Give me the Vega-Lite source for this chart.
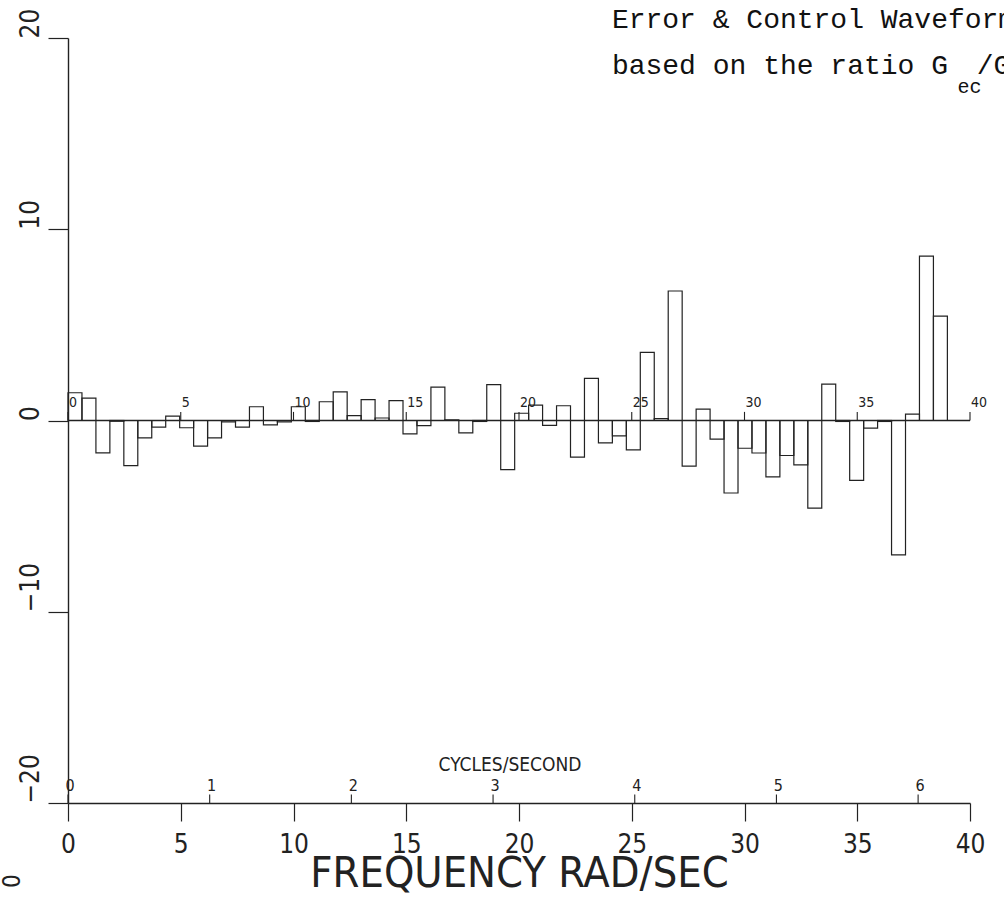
{
  "$schema": "https://vega.github.io/schema/vega-lite/v6.json",
  "width": 902,
  "height": 765,
  "autosize": {"type": "none"},
  "padding": {"left": 68, "top": 38, "right": 34, "bottom": 97},
  "background": "white",
  "config": {
    "view": {"stroke": null},
    "axis": {"grid": false, "labelFlush": false, "labelOverlap": false},
    "text": {"font": "Liberation Sans Narrow, DejaVu Sans Condensed, DejaVu Sans, sans-serif", "color": "#222"}
  },
  "datasets": {
    "bars": [
      {"f": 0, "f2": 0.619, "v": 1.45},
      {"f": 0.619, "f2": 1.238, "v": 1.17},
      {"f": 1.238, "f2": 1.857, "v": -1.69},
      {"f": 1.857, "f2": 2.476, "v": -0.04},
      {"f": 2.476, "f2": 3.095, "v": -2.36},
      {"f": 3.095, "f2": 3.714, "v": -0.91},
      {"f": 3.714, "f2": 4.333, "v": -0.35},
      {"f": 4.333, "f2": 4.952, "v": 0.23},
      {"f": 4.952, "f2": 5.571, "v": -0.38},
      {"f": 5.571, "f2": 6.19, "v": -1.34},
      {"f": 6.19, "f2": 6.809, "v": -0.91},
      {"f": 6.809, "f2": 7.428, "v": -0.07},
      {"f": 7.428, "f2": 8.047, "v": -0.35},
      {"f": 8.047, "f2": 8.666, "v": 0.72},
      {"f": 8.666, "f2": 9.285, "v": -0.23},
      {"f": 9.285, "f2": 9.904, "v": -0.07},
      {"f": 9.904, "f2": 10.523, "v": 0.72},
      {"f": 10.523, "f2": 11.142, "v": -0.05},
      {"f": 11.142, "f2": 11.761, "v": 0.98},
      {"f": 11.761, "f2": 12.38, "v": 1.5},
      {"f": 12.38, "f2": 12.999, "v": 0.25},
      {"f": 12.999, "f2": 13.618, "v": 1.09},
      {"f": 13.618, "f2": 14.237, "v": 0.13},
      {"f": 14.237, "f2": 14.856, "v": 1.04},
      {"f": 14.856, "f2": 15.475, "v": -0.7},
      {"f": 15.475, "f2": 16.094, "v": -0.27},
      {"f": 16.094, "f2": 16.713, "v": 1.74},
      {"f": 16.713, "f2": 17.332, "v": 0.03},
      {"f": 17.332, "f2": 17.951, "v": -0.65},
      {"f": 17.951, "f2": 18.57, "v": -0.05},
      {"f": 18.57, "f2": 19.189, "v": 1.88},
      {"f": 19.189, "f2": 19.808, "v": -2.57},
      {"f": 19.808, "f2": 20.427, "v": 0.38},
      {"f": 20.427, "f2": 21.046, "v": 0.8},
      {"f": 21.046, "f2": 21.665, "v": -0.25},
      {"f": 21.665, "f2": 22.284, "v": 0.77},
      {"f": 22.284, "f2": 22.903, "v": -1.92},
      {"f": 22.903, "f2": 23.522, "v": 2.2},
      {"f": 23.522, "f2": 24.141, "v": -1.17},
      {"f": 24.141, "f2": 24.76, "v": -0.8},
      {"f": 24.76, "f2": 25.379, "v": -1.54},
      {"f": 25.379, "f2": 25.998, "v": 3.56},
      {"f": 25.998, "f2": 26.617, "v": 0.1},
      {"f": 26.617, "f2": 27.236, "v": 6.77},
      {"f": 27.236, "f2": 27.855, "v": -2.39},
      {"f": 27.855, "f2": 28.474, "v": 0.59},
      {"f": 28.474, "f2": 29.093, "v": -0.97},
      {"f": 29.093, "f2": 29.712, "v": -3.79},
      {"f": 29.712, "f2": 30.331, "v": -1.45},
      {"f": 30.331, "f2": 30.95, "v": -1.7},
      {"f": 30.95, "f2": 31.569, "v": -2.95},
      {"f": 31.569, "f2": 32.188, "v": -1.83},
      {"f": 32.188, "f2": 32.807, "v": -2.32},
      {"f": 32.807, "f2": 33.426, "v": -4.58},
      {"f": 33.426, "f2": 34.045, "v": 1.9},
      {"f": 34.045, "f2": 34.664, "v": -0.05},
      {"f": 34.664, "f2": 35.283, "v": -3.13},
      {"f": 35.283, "f2": 35.902, "v": -0.4},
      {"f": 35.902, "f2": 36.521, "v": -0.05},
      {"f": 36.521, "f2": 37.14, "v": -7.03},
      {"f": 37.14, "f2": 37.759, "v": 0.33},
      {"f": 37.759, "f2": 38.378, "v": 8.6},
      {"f": 38.378, "f2": 38.997, "v": 5.46}
    ],
    "zeroTicks": [
      {"x": 0, "label": "0"},
      {"x": 5, "label": "5"},
      {"x": 10, "label": "10"},
      {"x": 15, "label": "15"},
      {"x": 20, "label": "20"},
      {"x": 25, "label": "25"},
      {"x": 30, "label": "30"},
      {"x": 35, "label": "35"},
      {"x": 40, "label": "40"}
    ],
    "cycleTicks": [
      {"x": 0, "label": "0"},
      {"x": 6.283, "label": "1"},
      {"x": 12.566, "label": "2"},
      {"x": 18.85, "label": "3"},
      {"x": 25.133, "label": "4"},
      {"x": 31.416, "label": "5"},
      {"x": 37.699, "label": "6"}
    ],
    "one": [{}]
  },
  "layer": [
    {
      "data": {"name": "bars"},
      "mark": {"type": "rect", "fill": "white", "fillOpacity": 0, "stroke": "#222", "strokeWidth": 1.2},
      "encoding": {
        "x": {
          "field": "f", "type": "quantitative",
          "scale": {"domain": [0, 40], "nice": false, "zero": false},
          "axis": {
            "values": [0, 5, 10, 15, 20, 25, 30, 35, 40],
            "tickSize": 18, "tickWidth": 1.2, "tickColor": "#222",
            "domainColor": "#222", "domainWidth": 1.4,
            "labelPadding": 10, "labelFontSize": 26, "labelColor": "#222",
            "labelFont": "Liberation Sans Narrow, DejaVu Sans Condensed, DejaVu Sans, sans-serif",
            "title": "FREQUENCY RAD/SEC", "titleFontSize": 43, "titleFontWeight": "normal",
            "titleFont": "Liberation Sans Narrow, DejaVu Sans Condensed, DejaVu Sans, sans-serif",
            "titleColor": "#222", "titlePadding": -5
          }
        },
        "x2": {"field": "f2"},
        "y": {
          "field": "v", "type": "quantitative",
          "scale": {"domain": [-20, 20], "nice": false},
          "axis": {
            "values": [-20, -10, 0, 10, 20],
            "tickSize": 20, "tickWidth": 1.2, "tickColor": "#222",
            "domainColor": "#222", "domainWidth": 1.4,
            "labelAngle": 270, "labelAlign": "left", "labelBaseline": "middle",
            "labelPadding": 18, "labelFontSize": 26, "labelColor": "#222",
            "labelFont": "Liberation Sans Narrow, DejaVu Sans Condensed, DejaVu Sans, sans-serif",
            "title": null
          }
        },
        "y2": {"datum": 0}
      }
    },
    {
      "data": {"name": "one"},
      "mark": {"type": "rule", "stroke": "#222", "strokeWidth": 1.4},
      "encoding": {
        "x": {"datum": 0, "type": "quantitative"},
        "x2": {"datum": 40},
        "y": {"datum": 0, "type": "quantitative"}
      }
    },
    {
      "data": {"name": "zeroTicks"},
      "mark": {"type": "rule", "stroke": "#222", "strokeWidth": 1.1},
      "encoding": {
        "x": {"field": "x", "type": "quantitative"},
        "y": {"datum": 0, "type": "quantitative"},
        "y2": {"datum": 0.45}
      }
    },
    {
      "data": {"name": "zeroTicks"},
      "mark": {"type": "text", "align": "left", "baseline": "alphabetic", "dx": 1, "dy": -14, "fontSize": 14},
      "encoding": {
        "x": {"field": "x", "type": "quantitative"},
        "y": {"datum": 0, "type": "quantitative"},
        "text": {"field": "label"}
      }
    },
    {
      "data": {"name": "cycleTicks"},
      "mark": {"type": "rule", "stroke": "#222", "strokeWidth": 1.1},
      "encoding": {
        "x": {"field": "x", "type": "quantitative"},
        "y": {"datum": -20, "type": "quantitative"},
        "y2": {"datum": -19.55}
      }
    },
    {
      "data": {"name": "cycleTicks"},
      "mark": {"type": "text", "align": "center", "baseline": "alphabetic", "dx": 2, "dy": -12, "fontSize": 16},
      "encoding": {
        "x": {"field": "x", "type": "quantitative"},
        "y": {"datum": -20, "type": "quantitative"},
        "text": {"field": "label"}
      }
    },
    {
      "data": {"name": "one"},
      "mark": {"type": "text", "align": "center", "baseline": "alphabetic", "dy": -32, "fontSize": 19, "text": "CYCLES/SECOND"},
      "encoding": {
        "x": {"datum": 19.6, "type": "quantitative"},
        "y": {"datum": -20, "type": "quantitative"}
      }
    },
    {
      "data": {"name": "one"},
      "mark": {"type": "text", "align": "left", "baseline": "middle", "angle": 270, "fontSize": 24, "text": "0"},
      "encoding": {
        "x": {"datum": -2.45, "type": "quantitative"},
        "y": {"datum": -24.45, "type": "quantitative"}
      }
    },
    {
      "data": {"name": "one"},
      "mark": {"type": "text", "align": "left", "baseline": "alphabetic", "font": "Liberation Mono, DejaVu Sans Mono, monospace", "fontSize": 28, "color": "#111", "text": "Error & Control Waveforms"},
      "encoding": {
        "x": {"datum": 24.12, "type": "quantitative"},
        "y": {"datum": 20.5, "type": "quantitative"}
      }
    },
    {
      "data": {"name": "one"},
      "mark": {"type": "text", "align": "left", "baseline": "alphabetic", "font": "Liberation Mono, DejaVu Sans Mono, monospace", "fontSize": 28, "color": "#111", "text": "based on the ratio G"},
      "encoding": {
        "x": {"datum": 24.12, "type": "quantitative"},
        "y": {"datum": 18.1, "type": "quantitative"}
      }
    },
    {
      "data": {"name": "one"},
      "mark": {"type": "text", "align": "left", "baseline": "alphabetic", "font": "Liberation Mono, DejaVu Sans Mono, monospace", "fontSize": 20, "color": "#111", "text": "ec"},
      "encoding": {
        "x": {"datum": 39.45, "type": "quantitative"},
        "y": {"datum": 17.12, "type": "quantitative"}
      }
    },
    {
      "data": {"name": "one"},
      "mark": {"type": "text", "align": "left", "baseline": "alphabetic", "font": "Liberation Mono, DejaVu Sans Mono, monospace", "fontSize": 28, "color": "#111", "text": "/G"},
      "encoding": {
        "x": {"datum": 40.3, "type": "quantitative"},
        "y": {"datum": 18.1, "type": "quantitative"}
      }
    }
  ]
}
